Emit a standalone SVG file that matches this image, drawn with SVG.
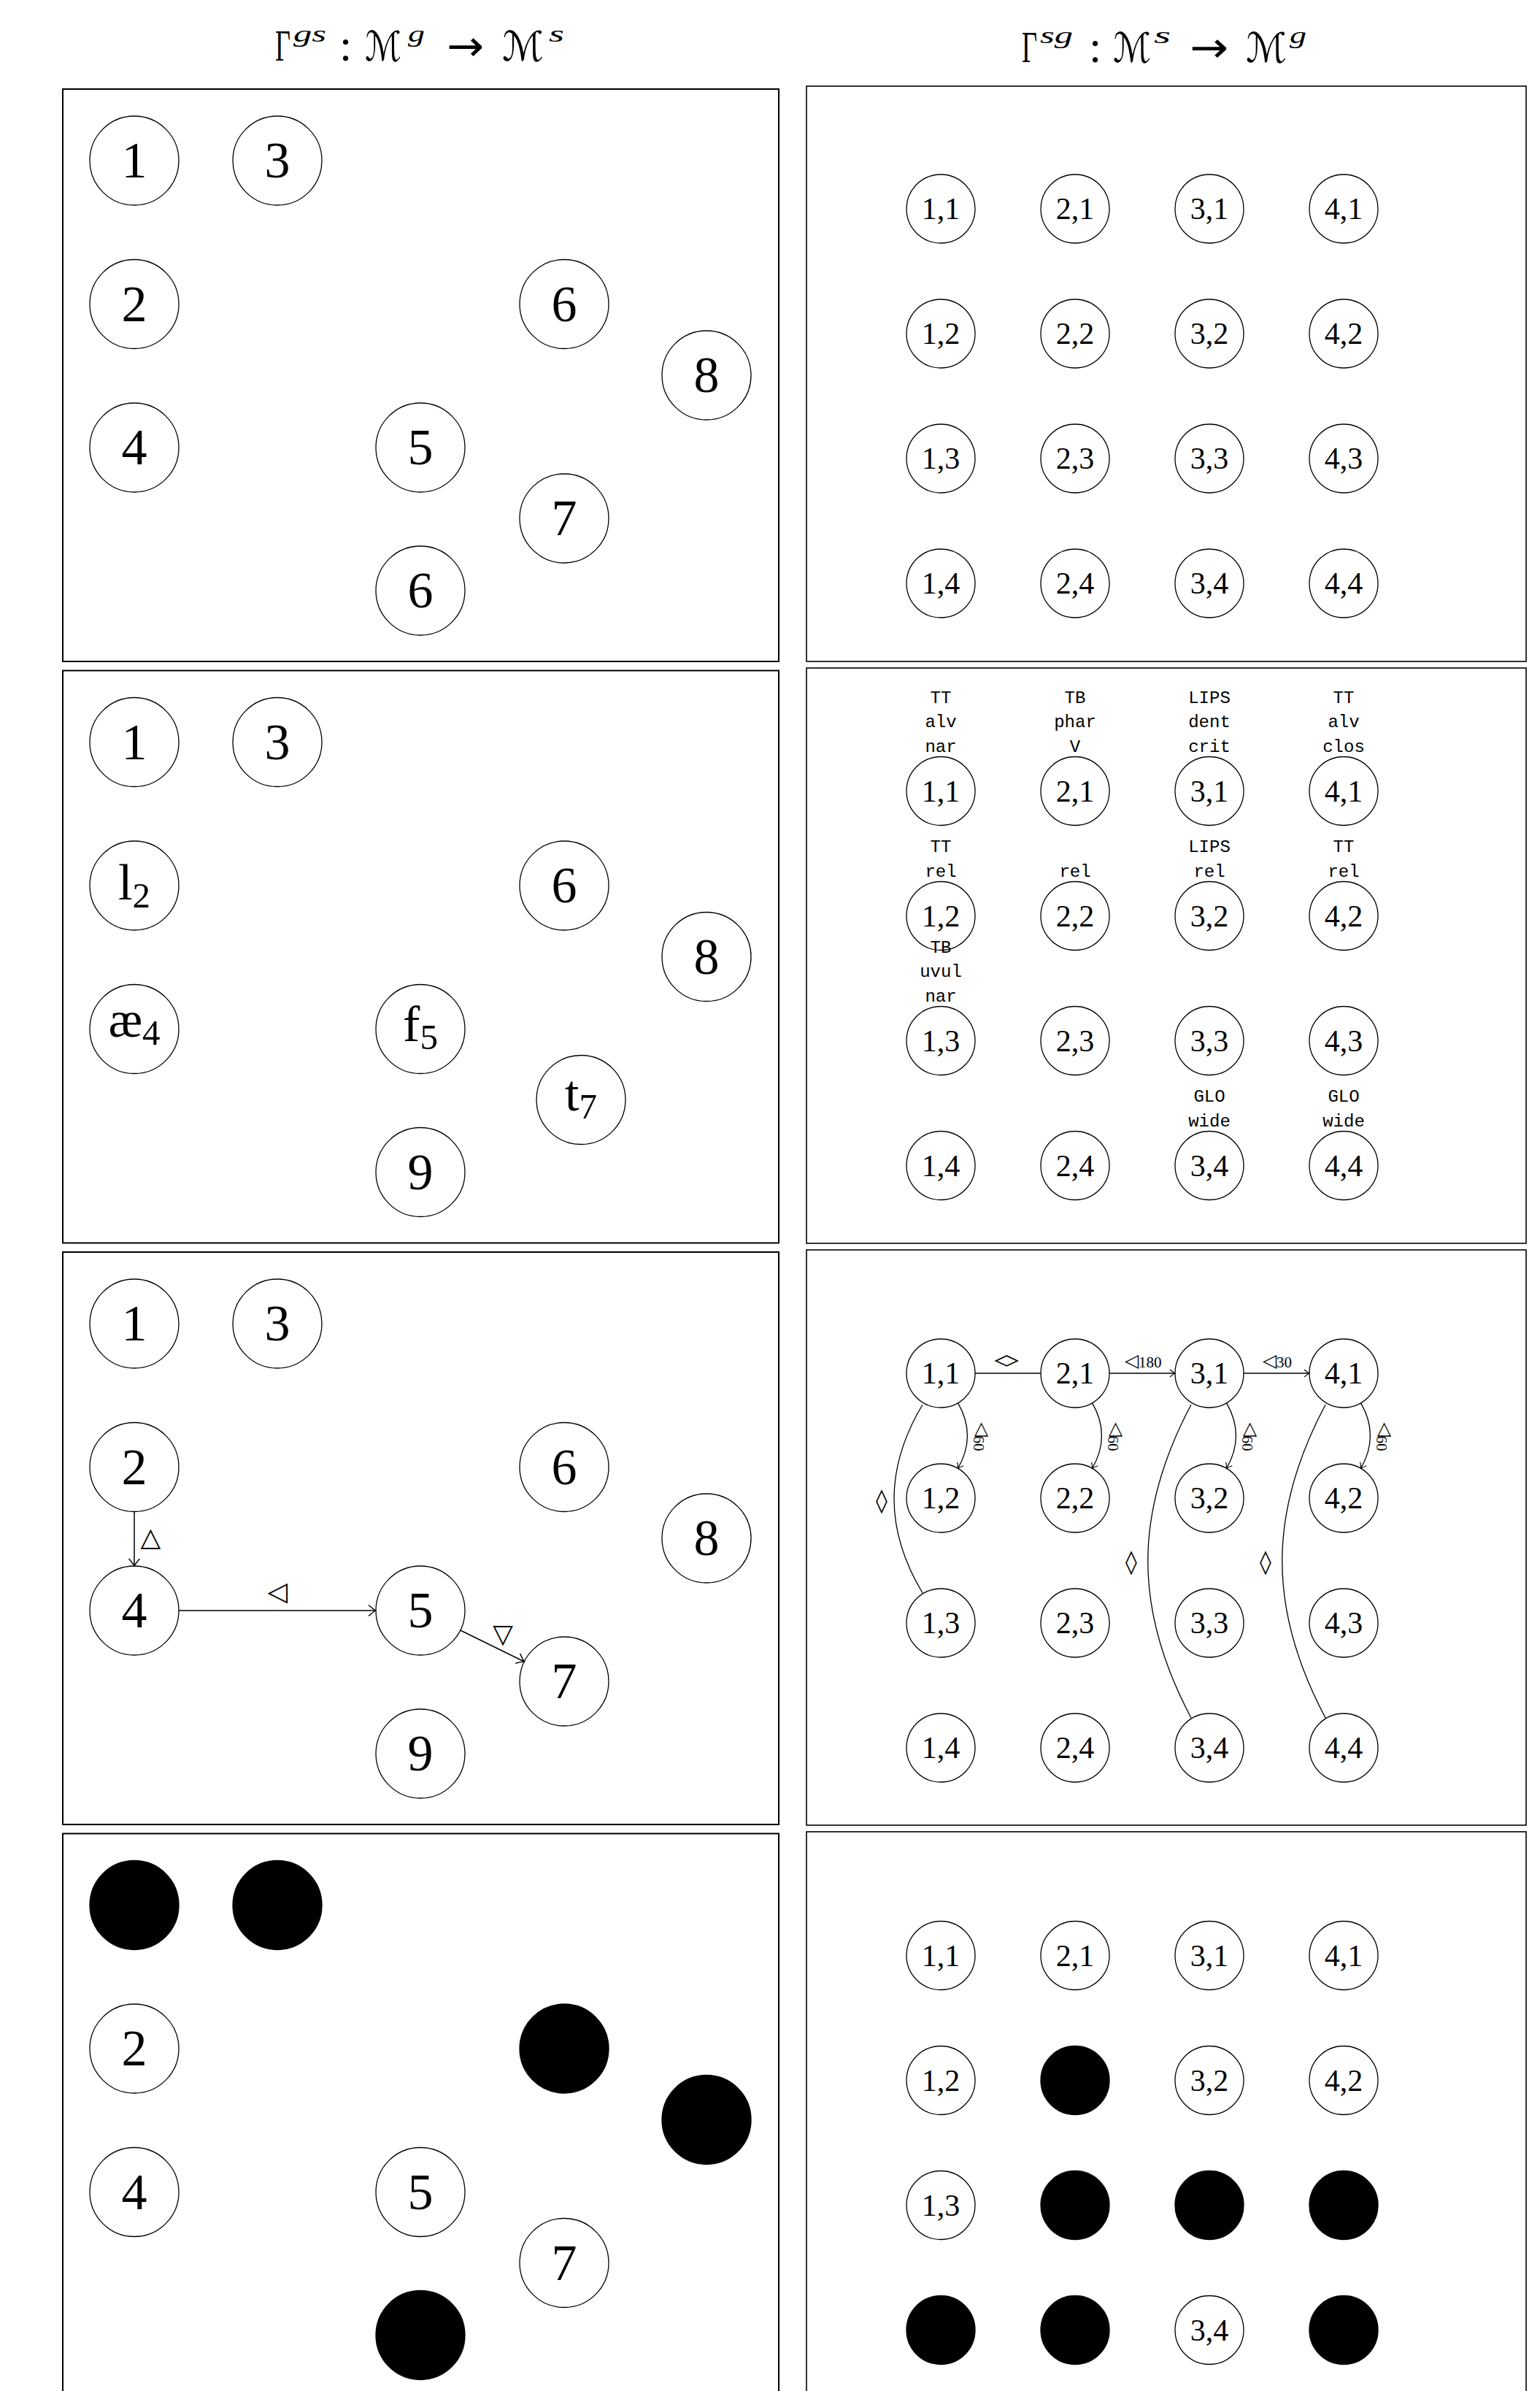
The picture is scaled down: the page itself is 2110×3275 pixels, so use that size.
<svg xmlns="http://www.w3.org/2000/svg" width="2110" height="3275" viewBox="0 0 2110 3275">
<style>
.bl{fill:none;stroke:#000;stroke-width:2}
.br{fill:none;stroke:#000;stroke-width:1.6}
.n{fill:#fff;stroke:#000;stroke-width:1.3}
.f{fill:#000;stroke:#000;stroke-width:1.3}
.lt{font-family:'Liberation Serif',serif;font-size:70px;text-anchor:middle;fill:#000}
.rt{font-family:'Liberation Serif',serif;font-size:42px;text-anchor:middle;fill:#000}
.tt{font-family:'Liberation Mono',monospace;font-size:24px;text-anchor:middle;fill:#000}
.ti{font-family:'Liberation Serif','DejaVu Serif',serif;font-size:62px;fill:#000}
.arw{font-family:'DejaVu Sans',sans-serif;font-size:58px}
.sc{font-family:'DejaVu Sans','DejaVu Serif',sans-serif;font-size:56px}
.sup{font-family:'Liberation Serif',serif;font-style:italic;font-size:31px}
.e{fill:none;stroke:#000;stroke-width:1.3}
.el{fill:none;stroke:#000;stroke-width:1.5}
.sym{font-family:'DejaVu Sans',sans-serif;text-anchor:middle;dominant-baseline:central;fill:#000}
.sub{font-family:'Liberation Serif',serif;fill:#000}
</style>
<defs>
<marker id="ar" viewBox="-10 -7 12 14" refX="0" refY="0" markerWidth="12" markerHeight="14" markerUnits="userSpaceOnUse" orient="auto"><path d="M -7 -5 Q -2.5 -1.2 0 0 Q -2.5 1.2 -7 5" fill="none" stroke="#000" stroke-width="1.2"/></marker>
<marker id="al" viewBox="-14 -10 16 20" refX="0" refY="0" markerWidth="16" markerHeight="20" markerUnits="userSpaceOnUse" orient="auto"><path d="M -10 -7.5 Q -3.5 -1.8 0 0 Q -3.5 1.8 -10 7.5" fill="none" stroke="#000" stroke-width="1.4"/></marker>
</defs>

<g id="titles">
<text id="title-left" class="ti"><tspan x="377" y="83" textLength="21" lengthAdjust="spacingAndGlyphs">Γ</tspan><tspan class="sup" x="402" y="57" textLength="45" lengthAdjust="spacingAndGlyphs">gs</tspan><tspan x="465" y="83">:</tspan><tspan class="sc" x="500" y="83" textLength="50" lengthAdjust="spacingAndGlyphs">ℳ</tspan><tspan class="sup" x="559" y="57" textLength="23" lengthAdjust="spacingAndGlyphs">g</tspan><tspan class="arw" x="612" y="83" textLength="51" lengthAdjust="spacingAndGlyphs">→</tspan><tspan class="sc" x="688" y="83" textLength="57" lengthAdjust="spacingAndGlyphs">ℳ</tspan><tspan class="sup" x="752" y="57" textLength="21" lengthAdjust="spacingAndGlyphs">s</tspan></text>
<text id="title-right" class="ti"><tspan x="1400" y="85" textLength="21" lengthAdjust="spacingAndGlyphs">Γ</tspan><tspan class="sup" x="1425" y="59" textLength="45" lengthAdjust="spacingAndGlyphs">sg</tspan><tspan x="1492" y="85">:</tspan><tspan class="sc" x="1525" y="85" textLength="52" lengthAdjust="spacingAndGlyphs">ℳ</tspan><tspan class="sup" x="1581" y="59" textLength="23" lengthAdjust="spacingAndGlyphs">s</tspan><tspan class="arw" x="1630" y="85" textLength="53" lengthAdjust="spacingAndGlyphs">→</tspan><tspan class="sc" x="1707" y="85" textLength="56" lengthAdjust="spacingAndGlyphs">ℳ</tspan><tspan class="sup" x="1767" y="59" textLength="23" lengthAdjust="spacingAndGlyphs">g</tspan></text>
</g>

<g id="frames">
<rect class="bl" x="86" y="122" width="981" height="784"/>
<rect class="bl" x="86" y="918.5" width="981" height="784"/>
<rect class="bl" x="86" y="1715" width="981" height="784"/>
<rect class="bl" x="86" y="2511.5" width="981" height="784"/>
<rect class="br" x="1105" y="118" width="986" height="788"/>
<rect class="br" x="1105" y="915" width="986" height="788"/>
<rect class="br" x="1105" y="1712" width="986" height="788"/>
<rect class="br" x="1105" y="2509" width="986" height="788"/>
</g>

<!-- Left panel 1 -->
<g id="L1">
<g id="L1-1"><circle class="n" cx="184" cy="220" r="61"/><text class="lt" x="184" y="243">1</text></g>
<g id="L1-3"><circle class="n" cx="380" cy="220" r="61"/><text class="lt" x="380" y="243">3</text></g>
<g id="L1-2"><circle class="n" cx="184" cy="416.5" r="61"/><text class="lt" x="184" y="439.5">2</text></g>
<g id="L1-6a"><circle class="n" cx="773" cy="416.5" r="61"/><text class="lt" x="773" y="439.5">6</text></g>
<g id="L1-8"><circle class="n" cx="968" cy="514" r="61"/><text class="lt" x="968" y="537">8</text></g>
<g id="L1-4"><circle class="n" cx="184" cy="613" r="61"/><text class="lt" x="184" y="636">4</text></g>
<g id="L1-5"><circle class="n" cx="576" cy="613" r="61"/><text class="lt" x="576" y="636">5</text></g>
<g id="L1-7"><circle class="n" cx="773" cy="710" r="61"/><text class="lt" x="773" y="733">7</text></g>
<g id="L1-6b"><circle class="n" cx="576" cy="809" r="61"/><text class="lt" x="576" y="832">6</text></g>
</g>

<!-- Left panel 2 -->
<g id="L2">
<g id="L2-1"><circle class="n" cx="184" cy="1016.5" r="61"/><text class="lt" x="184" y="1039.5">1</text></g>
<g id="L2-3"><circle class="n" cx="380" cy="1016.5" r="61"/><text class="lt" x="380" y="1039.5">3</text></g>
<g id="L2-2"><circle class="n" cx="184" cy="1213" r="61"/><text class="lt" x="184" y="1232">l<tspan font-size="49" dy="11">2</tspan></text></g>
<g id="L2-6"><circle class="n" cx="773" cy="1213" r="61"/><text class="lt" x="773" y="1236">6</text></g>
<g id="L2-8"><circle class="n" cx="968" cy="1310.5" r="61"/><text class="lt" x="968" y="1333.5">8</text></g>
<g id="L2-4"><circle class="n" cx="184" cy="1409.5" r="61"/><text class="lt" x="184" y="1420">æ<tspan font-size="49" dy="11">4</tspan></text></g>
<g id="L2-5"><circle class="n" cx="576" cy="1409.5" r="61"/><text class="lt" x="576" y="1426">f<tspan font-size="49" dy="11">5</tspan></text></g>
<g id="L2-7"><circle class="n" cx="796" cy="1506.5" r="61"/><text class="lt" x="796" y="1521">t<tspan font-size="49" dy="11">7</tspan></text></g>
<g id="L2-9"><circle class="n" cx="576" cy="1605.5" r="61"/><text class="lt" x="576" y="1628.5">9</text></g>
</g>

<!-- Left panel 3 -->
<g id="L3">
<g id="L3-1"><circle class="n" cx="184" cy="1813" r="61"/><text class="lt" x="184" y="1836">1</text></g>
<g id="L3-3"><circle class="n" cx="380" cy="1813" r="61"/><text class="lt" x="380" y="1836">3</text></g>
<g id="L3-2"><circle class="n" cx="184" cy="2009.5" r="61"/><text class="lt" x="184" y="2032.5">2</text></g>
<g id="L3-6"><circle class="n" cx="773" cy="2009.5" r="61"/><text class="lt" x="773" y="2032.5">6</text></g>
<g id="L3-8"><circle class="n" cx="968" cy="2107" r="61"/><text class="lt" x="968" y="2130">8</text></g>
<g id="L3-4"><circle class="n" cx="184" cy="2206" r="61"/><text class="lt" x="184" y="2229">4</text></g>
<g id="L3-5"><circle class="n" cx="576" cy="2206" r="61"/><text class="lt" x="576" y="2229">5</text></g>
<g id="L3-7"><circle class="n" cx="773" cy="2303" r="61"/><text class="lt" x="773" y="2326">7</text></g>
<g id="L3-9"><circle class="n" cx="576" cy="2402" r="61"/><text class="lt" x="576" y="2425">9</text></g>
</g>

<!-- Left panel 4 -->
<g id="L4">
<g id="L4-1"><circle class="f" cx="184" cy="2609.5" r="61"/></g>
<g id="L4-3"><circle class="f" cx="380" cy="2609.5" r="61"/></g>
<g id="L4-2"><circle class="n" cx="184" cy="2806" r="61"/><text class="lt" x="184" y="2829">2</text></g>
<g id="L4-6"><circle class="f" cx="773" cy="2806" r="61"/></g>
<g id="L4-8"><circle class="f" cx="968" cy="2903.5" r="61"/></g>
<g id="L4-4"><circle class="n" cx="184" cy="3002.5" r="61"/><text class="lt" x="184" y="3025.5">4</text></g>
<g id="L4-5"><circle class="n" cx="576" cy="3002.5" r="61"/><text class="lt" x="576" y="3025.5">5</text></g>
<g id="L4-7"><circle class="n" cx="773" cy="3099.5" r="61"/><text class="lt" x="773" y="3122.5">7</text></g>
<g id="L4-9"><circle class="f" cx="576" cy="3198.5" r="61"/></g>
</g>

<!-- Right panel 1 -->
<g id="R1">
<g id="R1-11"><circle class="n" cx="1289" cy="286" r="47"/><text class="rt" x="1289" y="300">1,1</text></g>
<g id="R1-21"><circle class="n" cx="1473" cy="286" r="47"/><text class="rt" x="1473" y="300">2,1</text></g>
<g id="R1-31"><circle class="n" cx="1657" cy="286" r="47"/><text class="rt" x="1657" y="300">3,1</text></g>
<g id="R1-41"><circle class="n" cx="1841" cy="286" r="47"/><text class="rt" x="1841" y="300">4,1</text></g>
<g id="R1-12"><circle class="n" cx="1289" cy="457" r="47"/><text class="rt" x="1289" y="471">1,2</text></g>
<g id="R1-22"><circle class="n" cx="1473" cy="457" r="47"/><text class="rt" x="1473" y="471">2,2</text></g>
<g id="R1-32"><circle class="n" cx="1657" cy="457" r="47"/><text class="rt" x="1657" y="471">3,2</text></g>
<g id="R1-42"><circle class="n" cx="1841" cy="457" r="47"/><text class="rt" x="1841" y="471">4,2</text></g>
<g id="R1-13"><circle class="n" cx="1289" cy="628" r="47"/><text class="rt" x="1289" y="642">1,3</text></g>
<g id="R1-23"><circle class="n" cx="1473" cy="628" r="47"/><text class="rt" x="1473" y="642">2,3</text></g>
<g id="R1-33"><circle class="n" cx="1657" cy="628" r="47"/><text class="rt" x="1657" y="642">3,3</text></g>
<g id="R1-43"><circle class="n" cx="1841" cy="628" r="47"/><text class="rt" x="1841" y="642">4,3</text></g>
<g id="R1-14"><circle class="n" cx="1289" cy="799" r="47"/><text class="rt" x="1289" y="813">1,4</text></g>
<g id="R1-24"><circle class="n" cx="1473" cy="799" r="47"/><text class="rt" x="1473" y="813">2,4</text></g>
<g id="R1-34"><circle class="n" cx="1657" cy="799" r="47"/><text class="rt" x="1657" y="813">3,4</text></g>
<g id="R1-44"><circle class="n" cx="1841" cy="799" r="47"/><text class="rt" x="1841" y="813">4,4</text></g>
</g>

<!-- Right panel 2 -->
<g id="R2">
<g id="R2-11"><circle class="n" cx="1289" cy="1083.5" r="47"/><text class="rt" x="1289" y="1097.5">1,1</text>
<text class="tt" x="1289" y="962.5">TT</text><text class="tt" x="1289" y="996">alv</text><text class="tt" x="1289" y="1029.5">nar</text></g>
<g id="R2-21"><circle class="n" cx="1473" cy="1083.5" r="47"/><text class="rt" x="1473" y="1097.5">2,1</text>
<text class="tt" x="1473" y="962.5">TB</text><text class="tt" x="1473" y="996">phar</text><text class="tt" x="1473" y="1029.5">V</text></g>
<g id="R2-31"><circle class="n" cx="1657" cy="1083.5" r="47"/><text class="rt" x="1657" y="1097.5">3,1</text>
<text class="tt" x="1657" y="962.5">LIPS</text><text class="tt" x="1657" y="996">dent</text><text class="tt" x="1657" y="1029.5">crit</text></g>
<g id="R2-41"><circle class="n" cx="1841" cy="1083.5" r="47"/><text class="rt" x="1841" y="1097.5">4,1</text>
<text class="tt" x="1841" y="962.5">TT</text><text class="tt" x="1841" y="996">alv</text><text class="tt" x="1841" y="1029.5">clos</text></g>
<g id="R2-12"><circle class="n" cx="1289" cy="1254.5" r="47"/><text class="rt" x="1289" y="1268.5">1,2</text>
<text class="tt" x="1289" y="1167">TT</text><text class="tt" x="1289" y="1200.5">rel</text></g>
<g id="R2-22"><circle class="n" cx="1473" cy="1254.5" r="47"/><text class="rt" x="1473" y="1268.5">2,2</text>
<text class="tt" x="1473" y="1200.5">rel</text></g>
<g id="R2-32"><circle class="n" cx="1657" cy="1254.5" r="47"/><text class="rt" x="1657" y="1268.5">3,2</text>
<text class="tt" x="1657" y="1167">LIPS</text><text class="tt" x="1657" y="1200.5">rel</text></g>
<g id="R2-42"><circle class="n" cx="1841" cy="1254.5" r="47"/><text class="rt" x="1841" y="1268.5">4,2</text>
<text class="tt" x="1841" y="1167">TT</text><text class="tt" x="1841" y="1200.5">rel</text></g>
<g id="R2-13"><circle class="n" cx="1289" cy="1425.5" r="47"/><text class="rt" x="1289" y="1439.5">1,3</text>
<text class="tt" x="1289" y="1304.5">TB</text><text class="tt" x="1289" y="1338">uvul</text><text class="tt" x="1289" y="1371.5">nar</text></g>
<g id="R2-23"><circle class="n" cx="1473" cy="1425.5" r="47"/><text class="rt" x="1473" y="1439.5">2,3</text></g>
<g id="R2-33"><circle class="n" cx="1657" cy="1425.5" r="47"/><text class="rt" x="1657" y="1439.5">3,3</text></g>
<g id="R2-43"><circle class="n" cx="1841" cy="1425.5" r="47"/><text class="rt" x="1841" y="1439.5">4,3</text></g>
<g id="R2-14"><circle class="n" cx="1289" cy="1596.5" r="47"/><text class="rt" x="1289" y="1610.5">1,4</text></g>
<g id="R2-24"><circle class="n" cx="1473" cy="1596.5" r="47"/><text class="rt" x="1473" y="1610.5">2,4</text></g>
<g id="R2-34"><circle class="n" cx="1657" cy="1596.5" r="47"/><text class="rt" x="1657" y="1610.5">3,4</text>
<text class="tt" x="1657" y="1509">GLO</text><text class="tt" x="1657" y="1542.5">wide</text></g>
<g id="R2-44"><circle class="n" cx="1841" cy="1596.5" r="47"/><text class="rt" x="1841" y="1610.5">4,4</text>
<text class="tt" x="1841" y="1509">GLO</text><text class="tt" x="1841" y="1542.5">wide</text></g>
</g>

<!-- Right panel 3 -->
<g id="R3">
<g id="R3-11"><circle class="n" cx="1289" cy="1881" r="47"/><text class="rt" x="1289" y="1895">1,1</text></g>
<g id="R3-21"><circle class="n" cx="1473" cy="1881" r="47"/><text class="rt" x="1473" y="1895">2,1</text></g>
<g id="R3-31"><circle class="n" cx="1657" cy="1881" r="47"/><text class="rt" x="1657" y="1895">3,1</text></g>
<g id="R3-41"><circle class="n" cx="1841" cy="1881" r="47"/><text class="rt" x="1841" y="1895">4,1</text></g>
<g id="R3-12"><circle class="n" cx="1289" cy="2052" r="47"/><text class="rt" x="1289" y="2066">1,2</text></g>
<g id="R3-22"><circle class="n" cx="1473" cy="2052" r="47"/><text class="rt" x="1473" y="2066">2,2</text></g>
<g id="R3-32"><circle class="n" cx="1657" cy="2052" r="47"/><text class="rt" x="1657" y="2066">3,2</text></g>
<g id="R3-42"><circle class="n" cx="1841" cy="2052" r="47"/><text class="rt" x="1841" y="2066">4,2</text></g>
<g id="R3-13"><circle class="n" cx="1289" cy="2223" r="47"/><text class="rt" x="1289" y="2237">1,3</text></g>
<g id="R3-23"><circle class="n" cx="1473" cy="2223" r="47"/><text class="rt" x="1473" y="2237">2,3</text></g>
<g id="R3-33"><circle class="n" cx="1657" cy="2223" r="47"/><text class="rt" x="1657" y="2237">3,3</text></g>
<g id="R3-43"><circle class="n" cx="1841" cy="2223" r="47"/><text class="rt" x="1841" y="2237">4,3</text></g>
<g id="R3-14"><circle class="n" cx="1289" cy="2394" r="47"/><text class="rt" x="1289" y="2408">1,4</text></g>
<g id="R3-24"><circle class="n" cx="1473" cy="2394" r="47"/><text class="rt" x="1473" y="2408">2,4</text></g>
<g id="R3-34"><circle class="n" cx="1657" cy="2394" r="47"/><text class="rt" x="1657" y="2408">3,4</text></g>
<g id="R3-44"><circle class="n" cx="1841" cy="2394" r="47"/><text class="rt" x="1841" y="2408">4,4</text></g>
</g>

<!-- Right panel 4 -->
<g id="R4">
<g id="R4-11"><circle class="n" cx="1289" cy="2678.5" r="47"/><text class="rt" x="1289" y="2692.5">1,1</text></g>
<g id="R4-21"><circle class="n" cx="1473" cy="2678.5" r="47"/><text class="rt" x="1473" y="2692.5">2,1</text></g>
<g id="R4-31"><circle class="n" cx="1657" cy="2678.5" r="47"/><text class="rt" x="1657" y="2692.5">3,1</text></g>
<g id="R4-41"><circle class="n" cx="1841" cy="2678.5" r="47"/><text class="rt" x="1841" y="2692.5">4,1</text></g>
<g id="R4-12"><circle class="n" cx="1289" cy="2849.5" r="47"/><text class="rt" x="1289" y="2863.5">1,2</text></g>
<g id="R4-22"><circle class="f" cx="1473" cy="2849.5" r="47"/></g>
<g id="R4-32"><circle class="n" cx="1657" cy="2849.5" r="47"/><text class="rt" x="1657" y="2863.5">3,2</text></g>
<g id="R4-42"><circle class="n" cx="1841" cy="2849.5" r="47"/><text class="rt" x="1841" y="2863.5">4,2</text></g>
<g id="R4-13"><circle class="n" cx="1289" cy="3020.5" r="47"/><text class="rt" x="1289" y="3034.5">1,3</text></g>
<g id="R4-23"><circle class="f" cx="1473" cy="3020.5" r="47"/></g>
<g id="R4-33"><circle class="f" cx="1657" cy="3020.5" r="47"/></g>
<g id="R4-43"><circle class="f" cx="1841" cy="3020.5" r="47"/></g>
<g id="R4-14"><circle class="f" cx="1289" cy="3191.5" r="47"/></g>
<g id="R4-24"><circle class="f" cx="1473" cy="3191.5" r="47"/></g>
<g id="R4-34"><circle class="n" cx="1657" cy="3191.5" r="47"/><text class="rt" x="1657" y="3205.5">3,4</text></g>
<g id="R4-44"><circle class="f" cx="1841" cy="3191.5" r="47"/></g>
</g>

<g id="connectors">
<!-- left panel 3 -->
<line class="el" x1="184" y1="2070.5" x2="184" y2="2145" marker-end="url(#al)"/>
<line class="el" x1="245" y1="2206" x2="515" y2="2206" marker-end="url(#al)"/>
<line class="el" x1="630.7" y1="2233" x2="718.3" y2="2276" marker-end="url(#al)"/>
<text class="sym" font-size="36" transform="translate(209.5,2108) rotate(90)">◁</text>
<text class="sym" font-size="36" x="380" y="2179.5">◁</text>
<text class="sym" font-size="36" x="689" y="2237">▽</text>
<!-- right panel 3 -->
<line class="e" x1="1336" y1="1881" x2="1426" y2="1881"/>
<line class="e" x1="1520" y1="1881" x2="1610" y2="1881" marker-end="url(#ar)"/>
<line class="e" x1="1704" y1="1881" x2="1794" y2="1881" marker-end="url(#ar)"/>
<path class="e" d="M 1312.5 1921.7 C 1330 1952 1330 1981 1312.5 2011.3" marker-end="url(#ar)"/>
<path class="e" d="M 1496.5 1921.7 C 1514 1952 1514 1981 1496.5 2011.3" marker-end="url(#ar)"/>
<path class="e" d="M 1680.5 1921.7 C 1698 1952 1698 1981 1680.5 2011.3" marker-end="url(#ar)"/>
<path class="e" d="M 1864.5 1921.7 C 1882 1952 1882 1981 1864.5 2011.3" marker-end="url(#ar)"/>
<path class="e" d="M 1264 1924 C 1212 2011 1212 2095 1264 2182"/>
<path class="e" d="M 1632 1924 C 1553 2073 1553 2204 1632 2353"/>
<path class="e" d="M 1816 1924 C 1737 2073 1737 2204 1816 2353"/>
<text class="sym" font-size="32" transform="translate(1381,1864) rotate(90)">◊</text>
<text class="sym" font-size="25" x="1550.5" y="1863">◁</text>
<text class="sub" font-size="21" x="1560" y="1873">180</text>
<text class="sym" font-size="25" x="1739.5" y="1863">◁</text>
<text class="sub" font-size="21" x="1749" y="1873">30</text>
<text class="sym" font-size="25" transform="translate(1346.5,1958) rotate(90)">◁</text>
<text class="sub" font-size="21" text-anchor="middle" transform="translate(1334,1977) rotate(90)">60</text>
<text class="sym" font-size="25" transform="translate(1530.5,1958) rotate(90)">◁</text>
<text class="sub" font-size="21" text-anchor="middle" transform="translate(1518,1977) rotate(90)">60</text>
<text class="sym" font-size="25" transform="translate(1714.5,1958) rotate(90)">◁</text>
<text class="sub" font-size="21" text-anchor="middle" transform="translate(1702,1977) rotate(90)">60</text>
<text class="sym" font-size="25" transform="translate(1898.5,1958) rotate(90)">◁</text>
<text class="sub" font-size="21" text-anchor="middle" transform="translate(1886,1977) rotate(90)">60</text>
<text class="sym" font-size="32" x="1208" y="2055">◊</text>
<text class="sym" font-size="32" x="1550" y="2139">◊</text>
<text class="sym" font-size="32" x="1734" y="2139">◊</text>
</g>
</svg>
